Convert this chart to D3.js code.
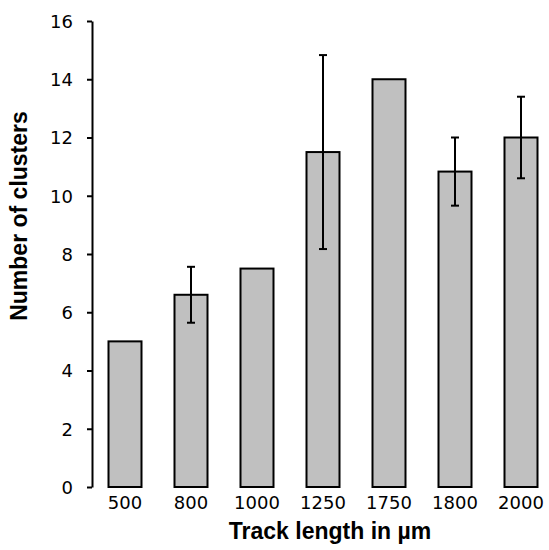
<!DOCTYPE html>
<html>
<head>
<meta charset="utf-8">
<script src="https://cdn.jsdelivr.net/npm/d3@7"></script>
<style>
  body { margin: 0; background: #fff; }
</style>
</head>
<body>
<div id="chart"></div>
<script>
// Dados
const categories = ["500", "800", "1000", "1250", "1750", "1800", "2000"]
const values = [5, 6.6, 7.5, 11.5, 14, 10.83, 12]
const errors = [0, 0.96, 0, 3.33, 0, 1.17, 1.4]
const yTicks = [0, 2, 4, 6, 8, 10, 12, 14, 16]

const width = 549
const height = 550
const margin = { top: 21, left: 92, bottom: 63 }

const svg = d3
  .select("#chart")
  .append("svg")
  .attr("width", width)
  .attr("height", height)

const y = d3
  .scaleLinear()
  .domain([0, 16])
  .range([height - margin.bottom, margin.top])

const x = d3
  .scaleBand()
  .domain(categories)
  .range([margin.left, margin.left + 462])
  .paddingInner(0.5)
  .paddingOuter(0.25)

// Barras
svg
  .selectAll("rect.bar")
  .data(values)
  .enter()
  .append("rect")
  .attr("class", "bar")
  .attr("x", (d, i) => x(categories[i]))
  .attr("y", (d) => y(d))
  .attr("width", x.bandwidth())
  .attr("height", (d) => y(0) - y(d))
  .attr("fill", "#c0c0c0")
  .attr("stroke", "#000")
  .attr("stroke-width", 2)

// Barras de erro
const capW = 8
const err = svg
  .selectAll("g.err")
  .data(values.map((v, i) => ({ v, e: errors[i], c: categories[i] })).filter((d) => d.e > 0))
  .enter()
  .append("g")
  .attr("class", "err")
  .attr("stroke", "#000")
  .attr("stroke-width", 2)
const cx = (d) => x(d.c) + x.bandwidth() / 2
err
  .append("line")
  .attr("x1", cx)
  .attr("x2", cx)
  .attr("y1", (d) => y(d.v + d.e))
  .attr("y2", (d) => y(d.v - d.e))
err
  .append("line")
  .attr("x1", (d) => cx(d) - capW / 2)
  .attr("x2", (d) => cx(d) + capW / 2)
  .attr("y1", (d) => y(d.v + d.e))
  .attr("y2", (d) => y(d.v + d.e))
err
  .append("line")
  .attr("x1", (d) => cx(d) - capW / 2)
  .attr("x2", (d) => cx(d) + capW / 2)
  .attr("y1", (d) => y(d.v - d.e))
  .attr("y2", (d) => y(d.v - d.e))

// Eixo Y
const yAxis = svg
  .append("g")
  .attr("transform", "translate(" + margin.left + ",0)")
  .call(d3.axisLeft(y).tickValues(yTicks).tickSize(5).tickSizeOuter(0).tickPadding(14))
yAxis.select(".domain").attr("stroke", "#000").attr("stroke-width", 2)
yAxis.selectAll(".tick line").attr("stroke", "#000").attr("stroke-width", 2)
yAxis
  .selectAll("text")
  .attr("font-family", "DejaVu Sans")
  .attr("font-size", 18)
  .attr("fill", "#000")
  .attr("dy", "0.35em")

// Eixo X (somente rótulos)
const xAxis = svg
  .append("g")
  .attr("transform", "translate(0," + y(0) + ")")
  .call(d3.axisBottom(x).tickSize(0).tickPadding(9))
xAxis.select(".domain").remove()
xAxis
  .selectAll("text")
  .attr("font-family", "DejaVu Sans")
  .attr("font-size", 18)
  .attr("fill", "#000")

// Títulos dos eixos
svg
  .append("text")
  .attr("x", 330)
  .attr("y", 539)
  .attr("text-anchor", "middle")
  .attr("font-family", "Liberation Sans")
  .attr("font-weight", "bold")
  .attr("font-size", 23)
  .text("Track length in µm")

svg
  .append("text")
  .attr("transform", "translate(27,216) rotate(-90)")
  .attr("text-anchor", "middle")
  .attr("font-family", "Liberation Sans")
  .attr("font-weight", "bold")
  .attr("font-size", 23)
  .text("Number of clusters")
</script>
</body>
</html>
